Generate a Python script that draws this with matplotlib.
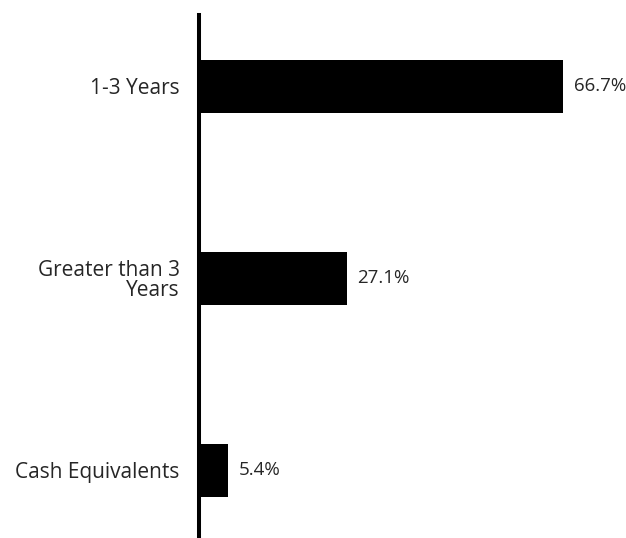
import matplotlib.pyplot as plt

categories = ['1-3 Years', 'Greater than 3\nYears', 'Cash Equivalents']
values = [66.7, 27.1, 5.4]
value_labels = ['66.7%', '27.1%', '5.4%']

plt.rcParams['font.family'] = ['Open Sans', 'DejaVu Sans']

fig = plt.figure(figsize=(6.26, 5.38), dpi=100)
ax = fig.add_axes([199 / 626, 0, 427 / 626, 523 / 538])

pos = list(range(len(categories)))
ax.barh(pos, values, height=0.276, color='black')

for p, v, lab in zip(pos, values, value_labels):
    ax.annotate(lab, (v, p), xytext=(7.5, 0), textcoords='offset points',
                va='center', ha='left', fontsize=13.5, color='#262626')

ax.set_yticks(pos)
ax.set_yticklabels(categories, fontsize=15, color='#262626', linespacing=0.92)
ax.tick_params(axis='y', length=0, pad=14)
ax.set_xticks([])
ax.set_xlim(0, 78.2)
ax.set_ylim(2.352, -0.372)

for s in ['top', 'right', 'bottom']:
    ax.spines[s].set_visible(False)
ax.spines['left'].set_linewidth(2.9)
ax.spines['left'].set_zorder(3)

fig.savefig('out.png', dpi=100)
